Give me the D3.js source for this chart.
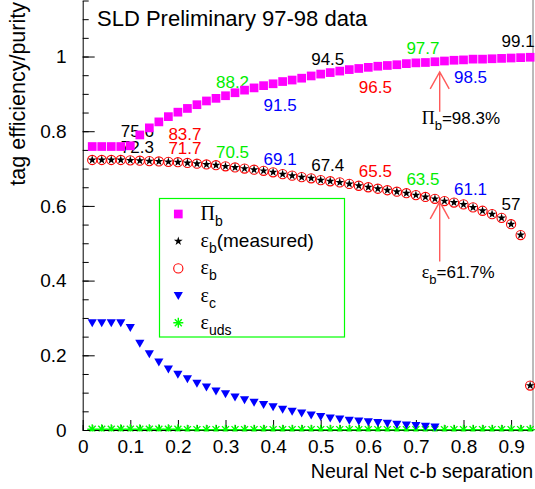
<!DOCTYPE html>
<html>
<head>
<meta charset="utf-8">
<script src="https://cdn.jsdelivr.net/npm/d3@7"></script>
<style>
  body { margin: 0; background: #fff; }
  svg { display: block; font-family: "Liberation Sans", Arial, sans-serif; }
</style>
</head>
<body>
<svg id="chart" width="535" height="489"></svg>
<script>
// bin centres of the NN cut scan
const xBins = [0.02, 0.04, 0.06, 0.08, 0.10, 0.12, 0.14, 0.16, 0.18, 0.20,
  0.22, 0.24, 0.26, 0.28, 0.30, 0.32, 0.34, 0.36, 0.38, 0.40,
  0.42, 0.44, 0.46, 0.48, 0.50, 0.52, 0.54, 0.56, 0.58, 0.60,
  0.62, 0.64, 0.66, 0.68, 0.70, 0.72, 0.74, 0.76, 0.78, 0.80,
  0.82, 0.84, 0.86, 0.88, 0.90, 0.92, 0.94];

const purityB = [0.759, 0.759, 0.759, 0.759, 0.761, 0.790, 0.809, 0.825, 0.839, 0.851,
  0.861, 0.871, 0.881, 0.888, 0.895, 0.903, 0.910, 0.916, 0.922, 0.927,
  0.933, 0.937, 0.942, 0.948, 0.953, 0.957, 0.961, 0.965, 0.968, 0.971,
  0.974, 0.976, 0.978, 0.981, 0.983, 0.984, 0.986, 0.988, 0.990, 0.991,
  0.993, 0.993, 0.994, 0.995, 0.996, 0.997, 0.998];

const effBMeasured = [0.723, 0.723, 0.723, 0.723, 0.722, 0.721, 0.720, 0.719, 0.718, 0.717,
  0.715, 0.713, 0.711, 0.709, 0.706, 0.703, 0.700, 0.697, 0.694, 0.690,
  0.685, 0.681, 0.677, 0.674, 0.669, 0.666, 0.663, 0.659, 0.654, 0.650,
  0.646, 0.642, 0.638, 0.634, 0.629, 0.624, 0.619, 0.613, 0.609, 0.604,
  0.596, 0.587, 0.578, 0.568, 0.551, 0.522, 0.119];

const effB = [0.723, 0.723, 0.723, 0.723, 0.722, 0.721, 0.720, 0.719, 0.718, 0.717,
  0.715, 0.713, 0.711, 0.709, 0.706, 0.703, 0.700, 0.697, 0.694, 0.690,
  0.685, 0.681, 0.677, 0.674, 0.669, 0.666, 0.663, 0.659, 0.654, 0.650,
  0.646, 0.642, 0.638, 0.634, 0.629, 0.624, 0.619, 0.613, 0.609, 0.604,
  0.596, 0.587, 0.578, 0.568, 0.551, 0.522, 0.119];

// charm only filled up to 0.74
const effC = [0.287, 0.287, 0.287, 0.287, 0.274, 0.232, 0.204, 0.182, 0.163, 0.149,
  0.137, 0.125, 0.115, 0.104, 0.097, 0.088, 0.081, 0.074, 0.068, 0.062,
  0.055, 0.050, 0.045, 0.040, 0.036, 0.032, 0.029, 0.026, 0.024, 0.022,
  0.020, 0.018, 0.015, 0.013, 0.012, 0.010, 0.008];

const effUds = [0.002, 0.002, 0.002, 0.002, 0.002, 0.002, 0.002, 0.002, 0.002, 0.002,
  0.001, 0.001, 0.001, 0.001, 0.001, 0.001, 0.001, 0.001, 0.001, 0.001,
  0.001, 0.001, 0.001, 0.001, 0.001, 0.001, 0.001, 0.001, 0.001, 0.001,
  0.001, 0.001, 0.001, 0.001, 0.001, 0.001, 0.001, 0.001, 0.001, 0.001,
  0.001, 0.001, 0.001, 0.001, 0.001, 0.001, 0.001];

// numbers written at each 0.1 cut
const cutValues = [0.1, 0.2, 0.3, 0.4, 0.5, 0.6, 0.7, 0.8, 0.9];
const purityText = ["75.6", "83.7", "88.2", "91.5", "94.5", "96.5", "97.7", "98.5", "99.1"];
const effText = ["72.3", "71.7", "70.5", "69.1", "67.4", "65.5", "63.5", "61.1", "57"];
const textColors = ["#000", "#ff0000", "#00ee00", "#0000ff"];

const xTicks = [0, 0.1, 0.2, 0.3, 0.4, 0.5, 0.6, 0.7, 0.8, 0.9];
const yTicks = [0, 0.2, 0.4, 0.6, 0.8, 1];

// where the cut numbers sit (y in data units)
const purityTextY = [0.785, 0.776, 0.915, 0.855, 0.977, 0.903, 1.008, 0.928, 1.026];
const effTextY = [0.742, 0.739, 0.728, 0.7095, 0.694, 0.677, 0.656, 0.629, 0.589];

const svg = d3.select("#chart");
const x = d3.scaleLinear().domain([0, 0.946]).range([82.7, 533]);
const y = d3.scaleLinear().domain([0, 1.15]).range([430, 0.5]);

const sans = '"Liberation Sans", Arial, sans-serif';
const serif = '"Liberation Serif", "Times New Roman", serif';

svg.append("defs").append("clipPath").attr("id", "plotclip")
  .append("rect").attr("x", 0).attr("y", 0).attr("width", 535).attr("height", 431.5);

// frame right side
svg.append("line")
  .attr("x1", 533).attr("x2", 533).attr("y1", 0).attr("y2", y(0))
  .attr("stroke", "#777").attr("stroke-width", 1);

// y axis
svg.append("g")
  .attr("transform", `translate(${x(0)},0)`)
  .call(d3.axisLeft(y).tickValues(d3.range(0, 1.151, 0.05)).tickSize(-6).tickFormat(""))
  .call((g) => g.select(".domain").remove());
const yAxis = svg.append("g")
  .attr("transform", `translate(${x(0)},0)`)
  .call(d3.axisLeft(y).tickValues(yTicks).tickSize(-12).tickSizeOuter(0).tickPadding(16)
    .tickFormat((d) => String(d)));
yAxis.attr("font-size", 19).attr("font-family", sans);

// x axis
svg.append("g")
  .attr("transform", `translate(0,${y(0)})`)
  .call(d3.axisBottom(x).tickValues(d3.range(0, 0.95, 0.02)).tickSize(-5).tickFormat(""))
  .call((g) => g.select(".domain").remove());
const xAxis = svg.append("g")
  .attr("transform", `translate(0,${y(0)})`)
  .call(d3.axisBottom(x).tickValues(xTicks).tickSize(-10).tickSizeOuter(0).tickPadding(10)
    .tickFormat((d) => String(d)));
xAxis.attr("font-size", 19).attr("font-family", sans);

// axis titles
svg.append("text")
  .attr("x", 533).attr("y", 478)
  .attr("text-anchor", "end")
  .attr("font-size", 19.5)
  .text("Neural Net c-b separation");
svg.append("text")
  .attr("transform", "translate(25,2) rotate(-90)")
  .attr("text-anchor", "end")
  .attr("font-size", 21.5)
  .text("tag efficiency/purity");

// title
svg.append("text")
  .attr("x", 97).attr("y", 26)
  .attr("font-size", 22)
  .text("SLD Preliminary 97-98 data");

// cut labels (drawn under the markers)
const cutLabels = svg.append("g").attr("font-size", 17);
cutLabels.selectAll(".pur")
  .data(cutValues)
  .join("text")
  .attr("class", "pur")
  .attr("x", (d) => x(d - 0.02))
  .attr("y", (d, i) => y(purityTextY[i]))
  .attr("fill", (d, i) => textColors[i % 4])
  .text((d, i) => purityText[i]);
cutLabels.selectAll(".eff")
  .data(cutValues)
  .join("text")
  .attr("class", "eff")
  .attr("x", (d) => x(d - 0.02))
  .attr("y", (d, i) => y(effTextY[i]))
  .attr("fill", (d, i) => textColors[i % 4])
  .text((d, i) => effText[i]);

// markers
const squarePath = d3.symbol(d3.symbolSquare, 76)();
const starPath = d3.symbol(d3.symbolStar, 24)();
const triPath = "M-4.6,-3.6L4.6,-3.6L0,4.4Z";
const asteriskPath = "M-5,0H5M0,-5V5M-3.5,-3.5L3.5,3.5M-3.5,3.5L3.5,-3.5";

const marker = {
  purity: (sel) => sel.append("path").attr("d", squarePath).attr("fill", "#ff00ff"),
  measured: (sel) => sel.append("path").attr("d", starPath).attr("fill", "#000"),
  effB: (sel) => sel.append("circle").attr("r", 4.6).attr("fill", "none")
    .attr("stroke", "#ff0000").attr("stroke-width", 1.1),
  effC: (sel) => sel.append("path").attr("d", triPath).attr("fill", "#0000ff"),
  uds: (sel) => sel.append("path").attr("d", asteriskPath).attr("fill", "none")
    .attr("stroke", "#00ff00").attr("stroke-width", 1.4),
};

const plot = svg.append("g").attr("clip-path", "url(#plotclip)");
function drawSeries(values, kind) {
  const pts = values.map((v, i) => ({ x: xBins[i], y: v }));
  plot.append("g")
    .selectAll("g")
    .data(pts)
    .join("g")
    .attr("transform", (d) => `translate(${x(d.x)},${y(d.y)})`)
    .each(function () { marker[kind](d3.select(this)); });
}
drawSeries(effUds, "uds");
drawSeries(effC, "effC");
drawSeries(effB, "effB");
drawSeries(effBMeasured, "measured");
drawSeries(purityB, "purity");

// arrows at the chosen cut
const arrowCut = 0.75;
const arrowColor = "#ff5a5a";
function arrow(tipVal, tailVal) {
  const ax = x(arrowCut), ty = y(tipVal), by = y(tailVal);
  svg.append("path")
    .attr("d", `M${ax},${by}V${ty}M${ax - 9.5},${ty + 17}L${ax},${ty}L${ax + 9.5},${ty + 17}`)
    .attr("fill", "none").attr("stroke", arrowColor).attr("stroke-width", 1.4);
}
arrow(0.959, 0.852);
arrow(0.611, 0.451);

function greekLabel(g, px, py, sym, sub, rest, size, subSize) {
  const t = g.append("text").attr("x", px).attr("y", py).attr("font-size", size);
  t.append("tspan").attr("font-family", serif).attr("font-size", size + 1).text(sym);
  t.append("tspan").attr("font-size", subSize).attr("dy", 6).text(sub);
  if (rest) t.append("tspan").attr("dy", -6).text(rest);
  return t;
}
greekLabel(svg, x(arrowCut) - 18, y(0.8195), "Π", "b", "=98.3%", 17, 13);
greekLabel(svg, x(arrowCut) - 18, y(0.408), "ε", "b", "=61.7%", 17, 13);

// legend
const legendItems = [
  { kind: "purity", sym: "Π", sub: "b", rest: "" },
  { kind: "measured", sym: "ε", sub: "b", rest: "(measured)" },
  { kind: "effB", sym: "ε", sub: "b", rest: "" },
  { kind: "effC", sym: "ε", sub: "c", rest: "" },
  { kind: "uds", sym: "ε", sub: "uds", rest: "" },
];
const legend = svg.append("g");
legend.append("rect")
  .attr("x", 159.5).attr("y", 198.5).attr("width", 185).attr("height", 138.5)
  .attr("fill", "#fff").attr("stroke", "#00ff00").attr("stroke-width", 1.2);
legendItems.forEach((item, i) => {
  const base = 220 + i * 27.2;
  const m = legend.append("g").attr("transform", `translate(178.3,${base - 6})`);
  marker[item.kind](m);
  greekLabel(legend, 200.5, base, item.sym, item.sub, item.rest, 19, 14);
});
</script>
</body>
</html>
